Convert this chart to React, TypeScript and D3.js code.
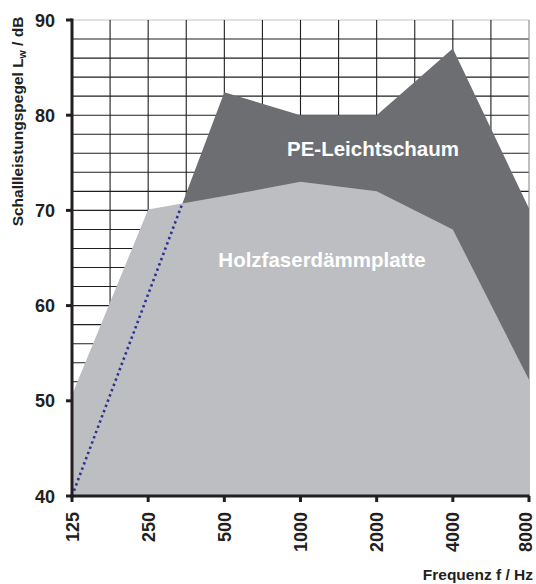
import React from "react";
import * as d3 from "d3";

const frequencies = [125, 250, 500, 1000, 2000, 4000, 8000];
const tickLabels = ["125", "250", "500", "1000", "2000", "4000", "8000"];
const holzfaser = [50.6, 70.1, 71.5, 73, 72, 68, 52.2];
const peLeichtschaum = [40, 61.2, 82.4, 80, 80, 87, 70.2];
const yTicks = [40, 50, 60, 70, 80, 90];
const gridDb = d3.range(42, 91, 2);
const gridFreq = d3.range(0, 13).map((k) => 125 * Math.pow(2, k / 2));

const W = 536;
const H = 584;
const FONT = "'Liberation Sans', Arial, Helvetica, sans-serif";

export default function App() {
  const x = d3.scaleLog().base(2).domain([125, 8000]).range([72, 529]);
  const y = d3.scaleLinear().domain([40, 90]).range([496, 20]);

  const area = d3
    .area<number>()
    .x((_, i) => x(frequencies[i]))
    .y0(y(40))
    .y1((d) => y(d));
  const line = d3
    .line<number>()
    .x((_, i) => x(frequencies[i]))
    .y((d) => y(d));

  const holzPath = area(holzfaser) || "";
  const pePath = area(peLeichtschaum) || "";
  const peLine = line(peLeichtschaum) || "";

  return (
    <svg
      width={W}
      height={H}
      style={{ position: "absolute", left: 0, top: 0, background: "#fff" }}
      fontFamily={FONT}
    >
      <defs>
        <clipPath id="holzClip">
          <path d={holzPath} />
        </clipPath>
      </defs>
      {/* grid */}
      <g>
        {gridDb.map((v) => (
          <line
            key={"h" + v}
            x1={x(125)}
            x2={x(8000)}
            y1={y(v)}
            y2={y(v)}
            stroke={v === 90 ? "#c4c4c4" : "#1f1f1f"}
            strokeWidth={1.1}
          />
        ))}
        {gridFreq.map((f, i) => (
          <line
            key={"v" + i}
            x1={x(f)}
            x2={x(f)}
            y1={y(90)}
            y2={y(40)}
            stroke={i === 12 ? "#8a8a8a" : "#1f1f1f"}
            strokeWidth={1.1}
          />
        ))}
      </g>
      {/* areas */}
      <path d={pePath} fill="#6d6e71" />
      <path d={holzPath} fill="#bdbec1" />
      <path
        d={peLine}
        fill="none"
        stroke="#2e3192"
        strokeWidth={2.6}
        strokeDasharray="2.4 3.2"
        clipPath="url(#holzClip)"
      />
      {/* labels */}
      <text
        x={373}
        y={156}
        fill="#fff"
        fontSize={20.5}
        fontWeight="bold"
        textAnchor="middle"
      >
        PE-Leichtschaum
      </text>
      <text
        x={322}
        y={267}
        fill="#fff"
        fontSize={20.5}
        fontWeight="bold"
        textAnchor="middle"
      >
        Holzfaserdämmplatte
      </text>
      {/* axes */}
      <line x1={72} x2={72} y1={18.5} y2={497.5} stroke="#231f20" strokeWidth={3} />
      <line x1={70.5} x2={529.5} y1={496} y2={496} stroke="#231f20" strokeWidth={3} />
      {yTicks.map((v) => (
        <g key={"yt" + v}>
          <line x1={66} x2={72} y1={y(v)} y2={y(v)} stroke="#231f20" strokeWidth={3} />
          <text
            x={55}
            y={y(v) + 6.5}
            fontSize={18}
            fontWeight="bold"
            textAnchor="end"
            fill="#231f20"
          >
            {v}
          </text>
        </g>
      ))}
      {frequencies.map((f, i) => (
        <g key={"xt" + f}>
          <line x1={x(f)} x2={x(f)} y1={496} y2={502} stroke="#231f20" strokeWidth={3} />
          <text
            transform={`translate(${Math.min(x(f) + 6.5, 532)},512) rotate(-90)`}
            fontSize={18}
            fontWeight="bold"
            textAnchor="end"
            fill="#231f20"
          >
            {tickLabels[i]}
          </text>
        </g>
      ))}
      <text
        transform="translate(23,121.5) rotate(-90)"
        fontSize={15.5}
        fontWeight="bold"
        textAnchor="middle"
        fill="#231f20"
      >
        Schallleistungspegel L
        <tspan fontSize={10.5} dy={3}>w</tspan>
        <tspan dy={-3}> / dB</tspan>
      </text>
      <text
        x={533}
        y={580}
        fontSize={15.5}
        fontWeight="bold"
        textAnchor="end"
        fill="#231f20"
      >
        Frequenz f / Hz
      </text>
    </svg>
  );
}
